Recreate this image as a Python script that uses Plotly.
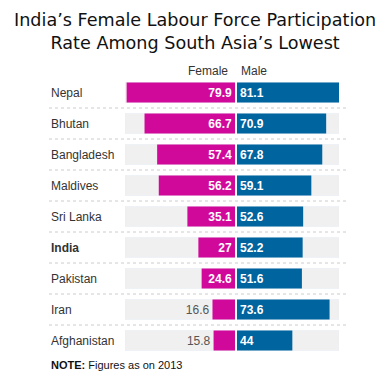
import plotly.graph_objects as go

countries = ["Nepal", "Bhutan", "Bangladesh", "Maldives", "Sri Lanka", "India",
             "Pakistan", "Iran", "Afghanistan"]
female = [79.9, 66.7, 57.4, 56.2, 35.1, 27, 24.6, 16.6, 15.8]
male = [81.1, 70.9, 67.8, 59.1, 52.6, 52.2, 51.6, 73.6, 44]
female_label_outside = [False, False, False, False, False, False, False, True, True]
highlight = "India"

W, H = 389, 379
MT, MB = 77, 23
plot_h = H - MT - MB

def px_x(p):
    return p / W

def px_y(p):
    return (H - MB - p) / plot_h

FONT = "Liberation Sans, Arial, sans-serif"
PINK = "#D1099A"
BLUE = "#00649F"
BG = "#F0F0F0"

axis_max = max(female + male)
bg_vals = [axis_max] * len(countries)

def fmt(v, inside):
    s = f"{v:g}"
    return f"<b>{s}</b>" if inside else s

fig = go.Figure()

# background bars
fig.add_trace(go.Bar(y=countries, x=bg_vals, orientation="h", marker_color=BG,
                     xaxis="x", yaxis="y", hoverinfo="skip", showlegend=False))
fig.add_trace(go.Bar(y=countries, x=bg_vals, orientation="h", marker_color=BG,
                     xaxis="x2", yaxis="y", hoverinfo="skip", showlegend=False))

fig.add_trace(go.Bar(
    y=countries, x=female, orientation="h", marker_color=PINK, marker_line_width=0,
    text=[fmt(v, not o) for v, o in zip(female, female_label_outside)],
    textposition=["outside" if o else "inside" for o in female_label_outside],
    insidetextanchor="start",
    insidetextfont=dict(color="white", size=12, family=FONT),
    outsidetextfont=dict(color="#555555", size=12, family=FONT),
    textfont=dict(family=FONT, size=12),
    constraintext="none", cliponaxis=False,
    xaxis="x", yaxis="y", showlegend=False, name="Female"))

fig.add_trace(go.Bar(
    y=countries, x=male, orientation="h", marker_color=BLUE, marker_line_width=0,
    text=[fmt(v, True) for v in male],
    textposition="inside",
    insidetextanchor="start",
    insidetextfont=dict(color="white", size=12, family=FONT),
    constraintext="none", cliponaxis=False,
    xaxis="x2", yaxis="y", showlegend=False, name="Male"))

annotations = []
for c in countries:
    txt = f"<b>{c}</b>" if c == highlight else c
    annotations.append(dict(x=px_x(49), xref="paper", y=c, yref="y", text=txt,
                            xanchor="left", yanchor="middle", showarrow=False,
                            font=dict(family=FONT, size=12, color="#333333")))
annotations.append(dict(x=px_x(230), xref="paper", y=px_y(71), yref="paper", text="Female",
                        xanchor="right", yanchor="middle", showarrow=False,
                        font=dict(family=FONT, size=12, color="#333333")))
annotations.append(dict(x=px_x(239), xref="paper", y=px_y(71), yref="paper", text="Male",
                        xanchor="left", yanchor="middle", showarrow=False,
                        font=dict(family=FONT, size=12, color="#333333")))
annotations.append(dict(x=px_x(49), xref="paper", y=px_y(365), yref="paper",
                        text="<b>NOTE:</b> Figures as on 2013",
                        xanchor="left", yanchor="middle", showarrow=False,
                        font=dict(family=FONT, size=11, color="#111111")))
annotations.append(dict(x=0.5, xref="paper", y=px_y(31), yref="paper",
                        text="India’s Female Labour Force Participation<br>Rate Among South Asia’s Lowest",
                        xanchor="center", yanchor="middle", showarrow=False, align="center",
                        font=dict(family="DejaVu Sans, Verdana, sans-serif", size=17.6, color="#111111")))

shapes = []
for i in range(len(countries) - 1):
    shapes.append(dict(type="line", xref="paper", yref="y", x0=px_x(49), x1=px_x(349),
                       y0=i + 0.5, y1=i + 0.5,
                       line=dict(color="#CCCCCC", width=1, dash="dot")))

fig.update_layout(
    width=W, height=H,
    margin=dict(l=0, r=0, t=MT, b=MB),
    paper_bgcolor="white", plot_bgcolor="white",
    barmode="overlay", bargap=0.355,
    xaxis=dict(domain=[px_x(125), px_x(235)], range=[axis_max, 0], visible=False, fixedrange=True),
    xaxis2=dict(domain=[px_x(237), px_x(339)], range=[0, axis_max], visible=False, fixedrange=True),
    yaxis=dict(type="category", categoryorder="array", categoryarray=countries,
               range=[len(countries) - 0.5, -0.5], visible=False, fixedrange=True),
    annotations=annotations, shapes=shapes,
)

fig.write_html("out.html", config={"displayModeBar": False},
               post_script="document.body.style.margin='0';document.body.style.overflow='hidden';")
